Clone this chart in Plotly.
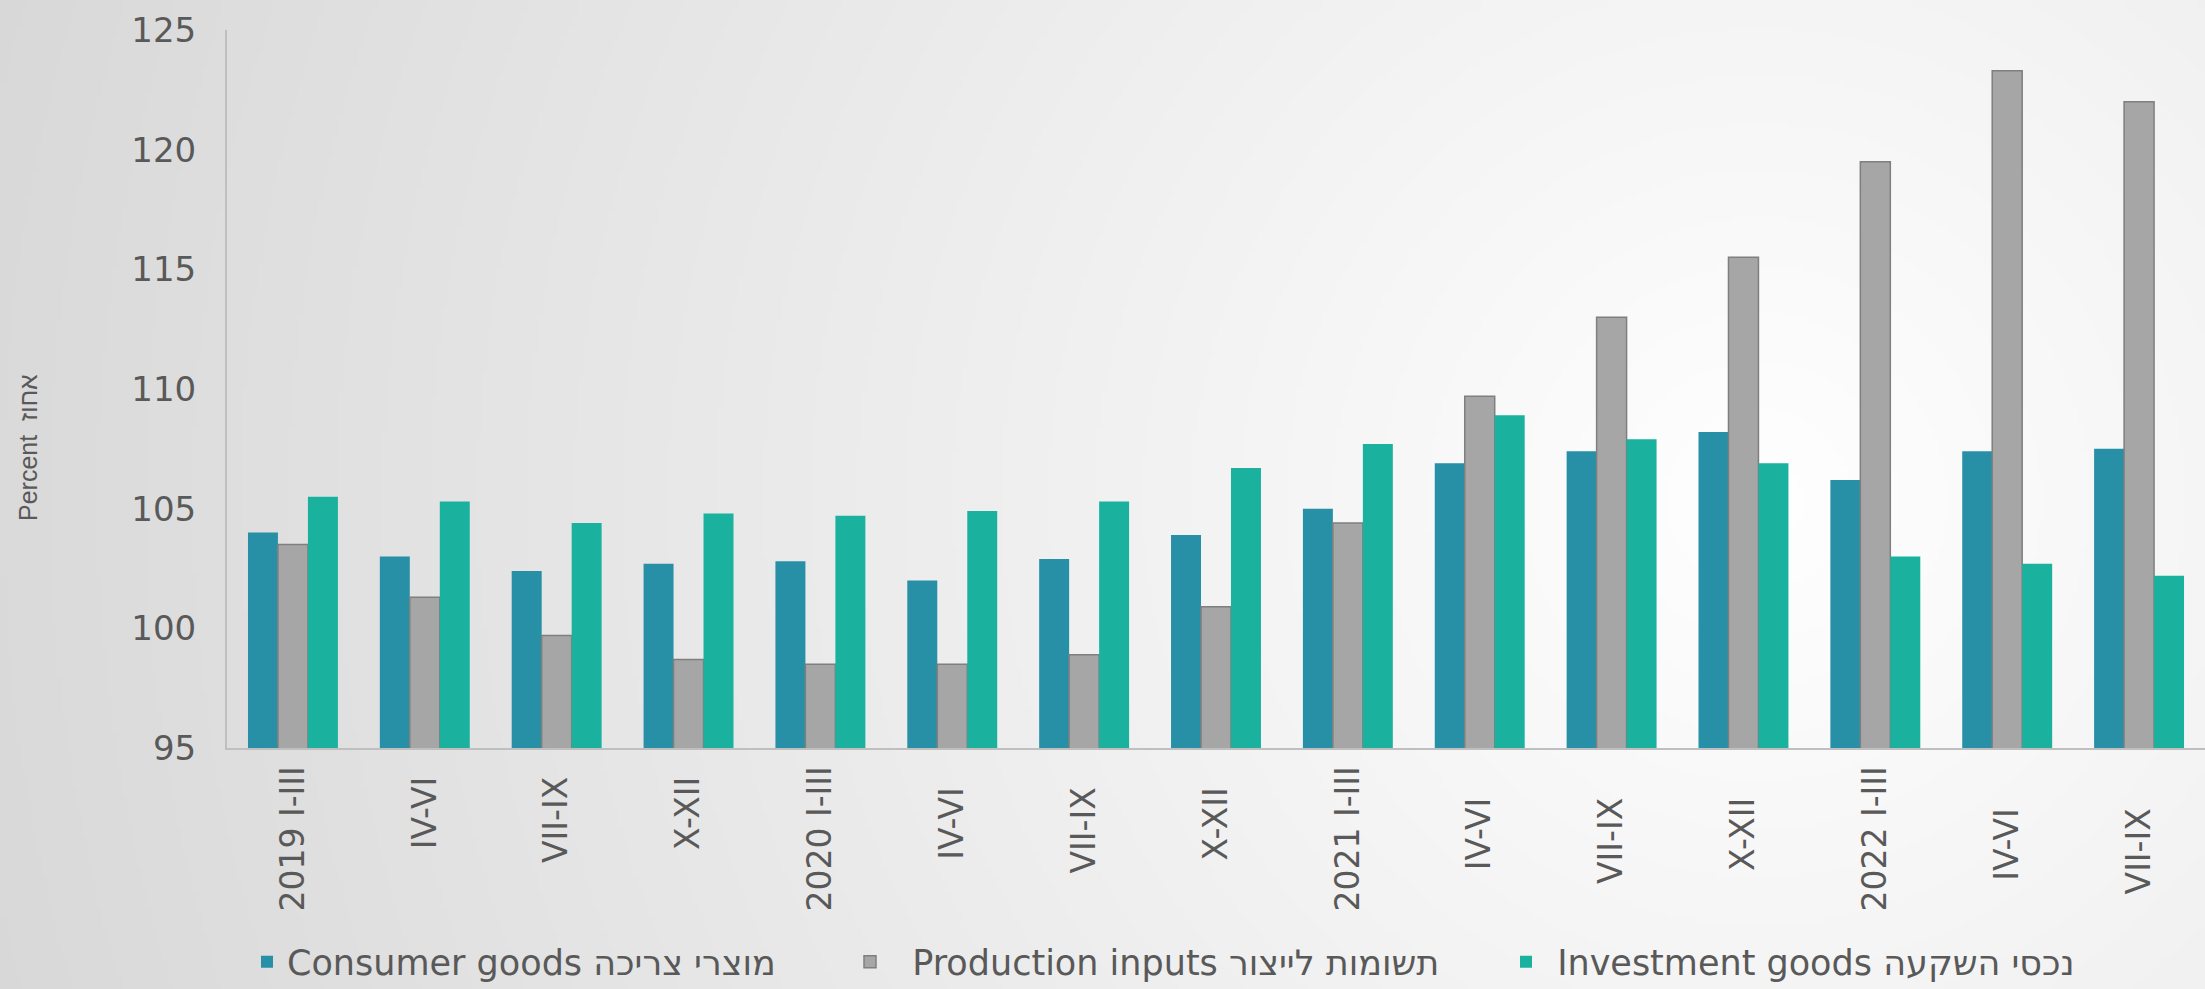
import base64
import struct
import zlib

import numpy as np
import plotly.graph_objects as go

# ---------------- data ----------------
categories = ["2019 I-III", "IV-VI ", "VII-IX ", "X-XII ",
              "2020 I-III", "IV-VI  ", "VII-IX  ", "X-XII  ",
              "2021 I-III", "IV-VI   ", "VII-IX   ", "X-XII   ",
              "2022 I-III", "IV-VI    ", "VII-IX    "]
consumer_goods = [104.0, 103.0, 102.4, 102.7, 102.8, 102.0, 102.9, 103.9,
                  105.0, 106.9, 107.4, 108.2, 106.2, 107.4, 107.5]
production_inputs = [103.5, 101.3, 99.7, 98.7, 98.5, 98.5, 98.9, 100.9,
                     104.4, 109.7, 113.0, 115.5, 119.5, 123.3, 122.0]
investment_goods = [105.5, 105.3, 104.4, 104.8, 104.7, 104.9, 105.3, 106.7,
                    107.7, 108.9, 107.9, 106.9, 103.0, 102.7, 102.2]
series_names = ["Consumer goods מוצרי צריכה",
                "\u00a0\u00a0Production inputs תשומות לייצור",
                "\u00a0Investment goods נכסי השקעה"]
y_ticks = [95, 100, 105, 110, 115, 120, 125]
y_title = "Percent  אחוז"

# ---------------- geometry ----------------
W, H = 2205, 989
ML, MR, MT, MB = 227, 0, 30, 241
PW, PH = W - ML - MR, H - MT - MB

# ---------------- background gradient (styling) ----------------
sw, sh = 441, 198
xs = np.linspace(0, W, sw)
ys = np.linspace(0, H, sh)
XX, YY = np.meshgrid(xs, ys)
d = np.sqrt((XX - 1760) ** 2 + (YY - 500) ** 2)
pix = np.clip(255 - 0.021 * d, 216, 255).astype(np.uint8)


def make_png(arr):
    h, w = arr.shape
    raw = b"".join(b"\x00" + arr[i].tobytes() for i in range(h))

    def chunk(t, data):
        c = struct.pack(">I", len(data)) + t + data
        return c + struct.pack(">I", zlib.crc32(t + data) & 0xFFFFFFFF)

    return (b"\x89PNG\r\n\x1a\n"
            + chunk(b"IHDR", struct.pack(">IIBBBBB", w, h, 8, 0, 0, 0, 0))
            + chunk(b"IDAT", zlib.compress(raw, 9))
            + chunk(b"IEND", b""))


bg_src = "data:image/png;base64," + base64.b64encode(make_png(pix)).decode()

# ---------------- figure ----------------
colors = ["#2790A6", "#A6A6A6", "#1AB29F"]
line_colors = ["#2790A6", "#7F7F7F", "#1AB29F"]
line_widths = [0, 1.5, 0]
values = [consumer_goods, production_inputs, investment_goods]
legends = ["legend", "legend2", "legend3"]

fig = go.Figure()
for name, vals, c, lc, lw, lg in zip(series_names, values, colors,
                                     line_colors, line_widths, legends):
    fig.add_trace(go.Bar(
        x=categories, y=vals, name=name,
        marker=dict(color=c, line=dict(color=lc, width=lw)),
        legend=lg,
    ))

legend_font = dict(family="DejaVu Sans", size=35, color="#595959")


def leg(xpix):
    return dict(orientation="h", xref="container", yref="container",
                x=xpix / W, xanchor="left",
                y=1 - 962 / H, yanchor="middle",
                bgcolor="rgba(0,0,0,0)", borderwidth=0, font=legend_font)


fig.update_layout(
    width=W, height=H,
    margin=dict(l=ML, r=MR, t=MT, b=MB, autoexpand=False),
    paper_bgcolor="#e4e4e4",
    plot_bgcolor="rgba(0,0,0,0)",
    barmode="group", bargap=0.318, bargroupgap=0,
    showlegend=True,
    legend=leg(247),
    legend2=leg(850),
    legend3=leg(1506),
    images=[dict(source=bg_src, xref="paper", yref="paper",
                 x=-ML / PW, y=1 + MT / PH, sizex=W / PW, sizey=H / PH,
                 xanchor="left", yanchor="top", sizing="stretch",
                 layer="below")],
    xaxis=dict(
        type="category", tickangle=-90,
        tickfont=dict(family="DejaVu Sans", size=33, color="#595959"),
        showline=True, linecolor="#BFBFBF", linewidth=2,
        showgrid=False, ticks="", ticklabelstandoff=3,
        zeroline=False,
    ),
    yaxis=dict(
        range=[95, 125], tickvals=y_ticks,
        tickfont=dict(family="DejaVu Sans", size=34, color="#595959"),
        showline=True, linecolor="#BFBFBF", linewidth=2,
        showgrid=False, ticks="", ticklabelstandoff=22,
        zeroline=False,
    ),
    annotations=[dict(
        text=y_title, xref="paper", yref="paper",
        x=(28 - ML) / PW, y=(PH - (448 - MT)) / PH,
        xanchor="center", yanchor="middle", textangle=-90, showarrow=False,
        font=dict(family="Liberation Sans Narrow, Liberation Sans, sans-serif",
                  size=25, color="#595959"),
    )],
)

fig.write_html(
    "out.html", config={"displayModeBar": False},
    post_script=("document.documentElement.style.overflow='hidden';"
                 "document.body.style.margin='0';"
                 "document.body.style.overflow='hidden';"))
